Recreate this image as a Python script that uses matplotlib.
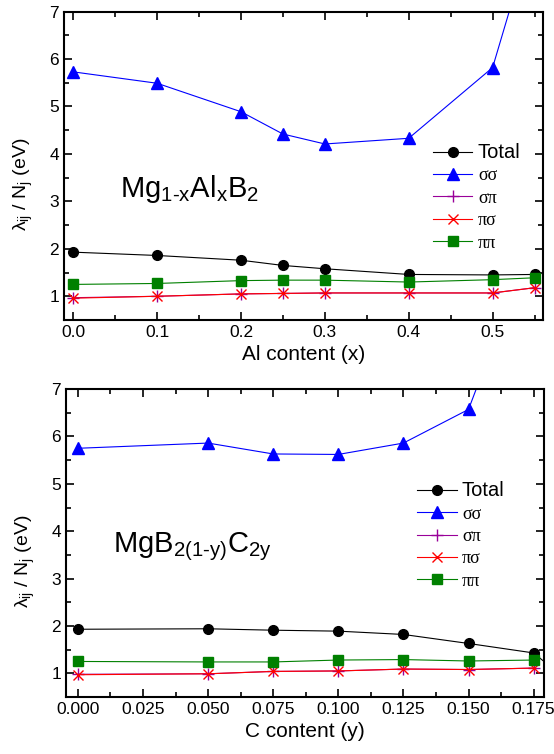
import matplotlib
matplotlib.use('Agg')
import matplotlib.pyplot as plt
from matplotlib.ticker import MultipleLocator

plt.rcParams['font.family'] = 'Liberation Sans'
plt.rcParams['mathtext.fontset'] = 'custom'
plt.rcParams['mathtext.rm'] = 'Liberation Sans'
plt.rcParams['mathtext.it'] = 'Liberation Sans'

# Mg1-xAlxB2
x_al = [0.0, 0.1, 0.2, 0.25, 0.3, 0.4, 0.5, 0.55]
al_total = [1.93, 1.86, 1.76, 1.65, 1.58, 1.46, 1.45, 1.46]
al_ss = [5.73, 5.49, 4.89, 4.42, 4.21, 4.33, 5.82, 8.8]
al_sp = [0.97, 1.00, 1.05, 1.06, 1.07, 1.07, 1.07, 1.18]
al_ps = [0.96, 1.00, 1.05, 1.06, 1.07, 1.07, 1.07, 1.18]
al_pp = [1.25, 1.27, 1.33, 1.34, 1.34, 1.30, 1.35, 1.39]

# MgB2(1-y)C2y
y_c = [0.0, 0.05, 0.075, 0.1, 0.125, 0.15, 0.175]
y_c_total = [0.0, 0.05, 0.075, 0.1, 0.125, 0.15, 0.175, 0.2]
c_total = [1.93, 1.94, 1.91, 1.89, 1.82, 1.63, 1.43, 0.3]
c_ss = [5.75, 5.86, 5.63, 5.62, 5.86, 6.57, 10.2]
c_sp = [0.98, 0.99, 1.04, 1.05, 1.09, 1.08, 1.11]
c_ps = [0.97, 0.99, 1.04, 1.05, 1.09, 1.08, 1.11]
c_pp = [1.25, 1.24, 1.24, 1.28, 1.29, 1.26, 1.28]

labels = ['Total', 'σσ', 'σπ', 'πσ', 'ππ']


def draw(ax, x, x_tot, tot, ss, sp, ps, pp):
    ax.plot(x_tot, tot, '-o', color='black', lw=0.8, ms=7, label=labels[0])
    ax.plot(x, ss, '-^', color='blue', lw=0.8, ms=8.5, label=labels[1])
    ax.plot(x, sp, '-+', color='#990099', lw=0.8, ms=8, mew=1.0, label=labels[2])
    ax.plot(x, ps, '-x', color='red', lw=0.8, ms=7.5, mew=1.0, label=labels[3])
    ax.plot(x, pp, '-s', color='green', lw=0.8, ms=6.5, label=labels[4])
    ax.set_ylim(0.5, 7)
    ax.yaxis.set_major_locator(MultipleLocator(1))
    ax.yaxis.set_minor_locator(MultipleLocator(0.5))
    ax.tick_params(which='both', direction='in', top=True, right=True, labelsize=12.5, width=1.2)
    ax.tick_params(which='major', length=6)
    ax.tick_params(which='minor', length=3.5)
    for s in ax.spines.values():
        s.set_linewidth(1.5)
    ax.set_ylabel(r'$\mathregular{\lambda_{ij}\ /\ N_j\ (eV)}$', fontsize=14)
    ax.yaxis.set_label_coords(-0.06, 0.44)


fig = plt.figure(figsize=(5.54, 7.54), dpi=100)

ax1 = fig.add_axes([0.1155, 0.5756, 0.8645, 0.409])
draw(ax1, x_al, x_al, al_total, al_ss, al_sp, al_ps, al_pp)
ax1.set_xlim(-0.011, 0.56)
ax1.xaxis.set_major_locator(MultipleLocator(0.1))
ax1.xaxis.set_minor_locator(MultipleLocator(0.05))
ax1.set_xlabel('Al content (x)', fontsize=15, labelpad=4)
ax1.text(0.056, 3.1, r'$\mathregular{Mg_{1\text{-}x}Al_xB_2}$', fontsize=21)
leg1 = ax1.legend(loc='upper left', bbox_to_anchor=(0.77, 0.574), frameon=False,
                  fontsize=13, handlelength=2.2, handletextpad=0.3, labelspacing=0.3,
                  borderpad=0, borderaxespad=0)

ax2 = fig.add_axes([0.119, 0.0756, 0.863, 0.4084])
draw(ax2, y_c, y_c_total, c_total, c_ss, c_sp, c_ps, c_pp)
ax2.set_xlim(-0.0046, 0.179)
ax2.xaxis.set_major_locator(MultipleLocator(0.025))
ax2.xaxis.set_minor_locator(MultipleLocator(0.0125))
ax2.xaxis.set_major_formatter(plt.FormatStrFormatter('%.3f'))
ax2.set_xlabel('C content (y)', fontsize=15, labelpad=4)
ax2.text(0.0135, 3.55, r'$\mathregular{MgB_{2(1\text{-}y)}C_{2y}}$', fontsize=21)
leg2 = ax2.legend(loc='upper left', bbox_to_anchor=(0.734, 0.701), frameon=False,
                  fontsize=13, handlelength=2.2, handletextpad=0.3, labelspacing=0.3,
                  borderpad=0, borderaxespad=0)

for leg in (leg1, leg2):
    leg.get_texts()[0].set_fontsize(14.5)
    for t in leg.get_texts()[1:]:
        t.set_fontfamily('Liberation Serif')

fig.savefig('out.png', dpi=100)
